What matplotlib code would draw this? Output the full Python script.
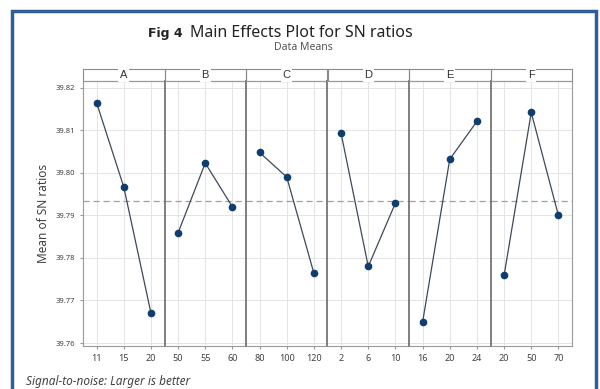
import numpy as np
import matplotlib.pyplot as plt
from matplotlib.patches import Rectangle

plt.rcParams['font.family'] = ['Noto Sans', 'DejaVu Sans']

# factores, niveles y medias SN
factors = ['A', 'B', 'C', 'D', 'E', 'F']
levels = [['11', '15', '20'], ['50', '55', '60'], ['80', '100', '120'],
          ['2', '6', '10'], ['16', '20', '24'], ['20', '50', '70']]
sn_A = [39.8165, 39.7967, 39.7671]
sn_B = [39.7859, 39.8023, 39.7920]
sn_C = [39.8048, 39.7990, 39.7764]
sn_D = [39.8093, 39.7780, 39.7929]
sn_E = [39.7649, 39.8032, 39.8121]
sn_F = [39.7759, 39.8142, 39.7900]
sn_means = [sn_A, sn_B, sn_C, sn_D, sn_E, sn_F]
grand_mean = 39.7934
yticks = [39.76, 39.77, 39.78, 39.79, 39.80, 39.81, 39.82]

fig = plt.figure(figsize=(6, 3.89), dpi=100)
fig.patch.set_facecolor('white')

# marco azul
fig.patches.append(Rectangle((12/600, -0.05), 584/600, 1 - 11/389 + 0.05,
                             transform=fig.transFigure, fill=False,
                             edgecolor='#2f5f96', lw=2.5))

left, right = 83/600, 572/600
bottom, top = 1 - 346/389, 1 - 81/389
w = (right - left) / 6
line_col = '#3c4a5a'
mark_col = '#0f3e6e'

for i, (f, lv, vals) in enumerate(zip(factors, levels, sn_means)):
    ax = fig.add_axes([left + i*w, bottom, w, top - bottom])
    x = np.arange(len(vals))
    ax.plot(x, vals, color=line_col, lw=0.9, zorder=3)
    ax.plot(x, vals, 'o', color=mark_col, ms=4.5, zorder=4)
    ax.axhline(grand_mean, color='#a0a0a0', lw=0.9, ls=(0, (5, 3)), zorder=2)
    ax.set_xlim(-0.5, 2.5)
    ax.set_ylim(39.7593, 39.8216)
    ax.set_xticks(x)
    ax.set_xticklabels(lv, fontsize=6.5, color='#404040')
    ax.set_yticks(yticks)
    ax.grid(True, color='#e4e4e4', lw=0.7, zorder=0)
    ax.tick_params(axis='x', length=2, color='#999999', pad=4)
    ax.tick_params(axis='y', length=2, color='#999999')
    for s in ax.spines.values():
        s.set_color('#9a9a9a')
        s.set_linewidth(0.8)
    if i == 0:
        ax.set_yticklabels(['%.2f' % t for t in yticks], fontsize=5.5, color='#404040')
        ax.set_ylabel('Mean of SN ratios', fontsize=8.5, color='#404040', labelpad=4)
    else:
        ax.tick_params(axis='y', left=False, labelleft=False)
        ax.spines['left'].set_color('#6a6a6a')
        ax.spines['left'].set_linewidth(1.2)
    # franja de cabecera
    ax.add_patch(Rectangle((0, 1), 1, 12/265, transform=ax.transAxes,
                           fill=False, edgecolor='#8a8a8a', lw=0.8, clip_on=False))
    ax.text(0.5, 1 + 6/265, f, transform=ax.transAxes, ha='center', va='center',
            fontsize=8, color='#333333', family='Liberation Sans',
            bbox=dict(facecolor='white', edgecolor='none', pad=1.2))

fig.text(148/600, 1 - 33/389, 'Fig 4', fontsize=9, fontweight='bold',
         family='DejaVu Sans', ha='left', va='center', color='#222222')
fig.text(190/600, 1 - 33/389, 'Main Effects Plot for SN ratios', fontsize=11.5,
         ha='left', va='center', color='#222222')
fig.text(303/600, 1 - 48/389, 'Data Means', fontsize=7.5, ha='center', va='center',
         color='#555555')
fig.text(26/600, 1 - 381/389, 'Signal-to-noise: Larger is better', fontsize=8.5,
         style='italic', ha='left', va='center', color='#444444')

fig.savefig('out.png', dpi=100)
